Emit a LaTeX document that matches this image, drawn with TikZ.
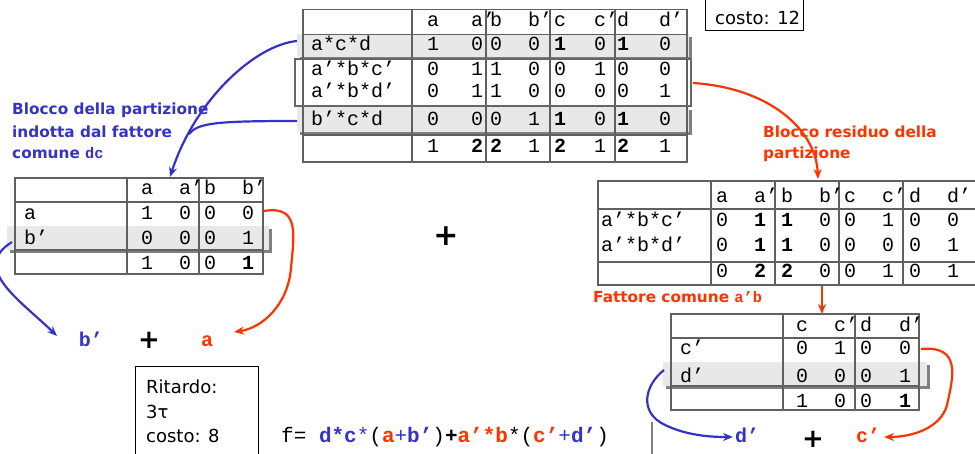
\documentclass[tikz,border=0pt]{standalone}
\usepackage{fontspec}
\setmainfont{DejaVu Sans}
\setmonofont{Liberation Mono}
\usetikzlibrary{arrows.meta}
\definecolor{myblue}{HTML}{3333CC}
\definecolor{myred}{HTML}{FF3300}
\definecolor{hl}{HTML}{E8E8E8}
\definecolor{shd}{HTML}{808080}
\definecolor{gridc}{HTML}{606060}
\newcommand\tabf{\fontsize{20}{20}\selectfont\ttfamily}
\newcommand\labf{\fontsize{15.3}{18}\selectfont\bfseries}
\newcommand\txtf{\fontsize{18}{18}\selectfont}
\tikzset{
 cell/.style={font=\tabf, inner sep=0pt, anchor=base},
 hcell/.style={font=\tabf, inner sep=0pt, anchor=base west},
 rlabel/.style={font=\tabf, inner sep=0pt, anchor=base west},
 gridline/.style={draw=gridc, line width=1.2pt},
 darkbox/.style={draw=black!60, line width=2.2pt},
 barrow/.style={draw=myblue, line width=2.2pt, -{Stealth[length=10pt,width=8pt]}},
 rarrow/.style={draw=myred, line width=2.2pt, -{Stealth[length=10pt,width=8pt]}},
 bline/.style={draw=myblue, line width=2.2pt},
 btxt/.style={font=\labf, text=myblue, inner sep=0pt, anchor=base west},
 rtxt/.style={font=\labf, text=myred, inner sep=0pt, anchor=base west},
 plain/.style={font=\txtf, inner sep=0pt, anchor=base west},
 infobox/.style={draw=black, line width=1pt},
 sym/.style={inner sep=0pt, anchor=base, font=\tabf\bfseries},
 bigplus/.style={inner sep=0pt, anchor=base, font=\fontsize{26}{26}\selectfont\bfseries},
}
\newcommand\hrow[3]{\foreach \x/\v [count=\i] in {#3} {\node[hcell] (#1-\i) at ({\x-6},#2) {\v};}}
\newcommand\vrow[3]{\foreach \x/\v [count=\i] in {#3} {\node[cell] (#1-\i) at (\x,#2) {\v};}}
\begin{document}
\begin{tikzpicture}[x=1pt,y=-1pt]
\useasboundingbox (0,0) rectangle (975,454);
\clip (0,0) rectangle (975,454);

% highlighted rows with shadow
\fill[shd] (300,37.5) rectangle (692,60);
\fill[hl] (297,34.5) rectangle (689,57);
\fill[shd] (300,110) rectangle (692,135);
\fill[hl] (297,107) rectangle (689,132);
\fill[shd] (10,229) rectangle (272,253);
\fill[hl] (7,226) rectangle (269,250);
\fill[shd] (666,365) rectangle (930,389);
\fill[hl] (663,362) rectangle (927,386);

% top table grid
\draw[gridline] (303,9.5) rectangle (687,162);
\foreach \x in {412,486,550,615} \draw[gridline] (\x,9.5) -- (\x,162);
\foreach \y in {34.3,135} \draw[gridline] (303,\y) -- (687,\y);
\draw[darkbox] (295,59) rectangle (691,106);

% left table grid
\draw[gridline] (15,178) rectangle (263,274);
\foreach \x in {127,199} \draw[gridline] (\x,178) -- (\x,274);
\foreach \y in {202,250} \draw[gridline] (15,\y) -- (263,\y);

% right table 1 grid
\draw[gridline] (985,181) -- (598,181) -- (598,285) -- (985,285);
\foreach \x in {711,775,839,903} \draw[gridline] (\x,181) -- (\x,285);
\foreach \y in {209,262} \draw[gridline] (598,\y) -- (985,\y);

% right table 2 grid
\draw[gridline] (671,314) rectangle (919,410);
\foreach \x in {783,855} \draw[gridline] (\x,314) -- (\x,410);
\foreach \y in {338,386} \draw[gridline] (671,\y) -- (919,\y);

% top table text
\hrow{th}{27}{433/a,477/a’,496/b,534/b’,560/c,600/c’,623/d,665/d’}
\node[rlabel] (tl1) at (311,51) {a*c*d};
\node[rlabel] (tl2) at (311,76) {a’*b*c’};
\node[rlabel] (tl3) at (311,98) {a’*b*d’};
\node[rlabel] (tl4) at (311,126) {b’*c*d};
\vrow{ta}{51}{433/1,477/0,496/0,534/0,560/\textbf{1},600/0,623/\textbf{1},665/0}
\vrow{tb}{76}{433/0,477/1,496/1,534/0,560/0,600/1,623/0,665/0}
\vrow{tc}{98}{433/0,477/1,496/1,534/0,560/0,600/0,623/0,665/1}
\vrow{td}{126}{433/0,477/0,496/0,534/1,560/\textbf{1},600/0,623/\textbf{1},665/0}
\vrow{tt}{153}{433/1,477/\textbf{2},496/\textbf{2},534/1,560/\textbf{2},600/1,623/\textbf{2},665/1}

% left table text
\hrow{lh}{195}{147/a,185/a’,210/b,248/b’}
\node[rlabel] (ll1) at (24,220) {a};
\node[rlabel] (ll2) at (24,245) {b’};
\vrow{la}{220}{147/1,185/0,210/0,248/0}
\vrow{lb}{245}{147/0,185/0,210/0,248/1}
\vrow{lt}{270}{147/1,185/0,210/0,248/\textbf{1}}

% right table 1 text
\hrow{rh}{203}{722/a,760/a’,787/b,825/b’,850/c,888/c’,915/d,953/d’}
\node[rlabel] (rl1a) at (601,227) {a’*b*c’};
\node[rlabel] (rl1b) at (601,252) {a’*b*d’};
\vrow{ra}{227}{722/0,760/\textbf{1},787/\textbf{1},825/0,850/0,888/1,915/0,953/0}
\vrow{rb}{252}{722/0,760/\textbf{1},787/\textbf{1},825/0,850/0,888/0,915/0,953/1}
\vrow{rt}{278}{722/0,760/\textbf{2},787/\textbf{2},825/0,850/0,888/1,915/0,953/1}

% right table 2 text
\hrow{sh}{332}{802/c,840/c’,866/d,905/d’}
\node[rlabel] (sl1) at (680,355) {c’};
\node[rlabel] (sl2) at (680,382) {d’};
\vrow{sa}{355}{802/0,840/1,866/0,905/0}
\vrow{sb}{382}{802/0,840/0,866/0,905/1}
\vrow{st}{407}{802/1,840/0,866/0,905/\textbf{1}}

% labels
\node[btxt] (bl1) at (12,115) {Blocco della partizione};
\node[btxt] (bl2) at (12,138) {indotta dal fattore};
\node[btxt] (bl3) at (12,159) {comune {\ttfamily dc}};
\node[rtxt] (rr1) at (763,138) {Blocco residuo della};
\node[rtxt] (rr2) at (763,159) {partizione};
\node[rtxt] (rr3) at (593,303) {Fattore comune {\ttfamily a’b}};

% boxes
\draw[infobox] (705,-5) rectangle (803,31);
\node[plain] (costo) at (715,25) {costo: 12};
\draw[infobox] (135,367) rectangle (258,470);
\node[plain] (rit1) at (146,393) {Ritardo:};
\node[plain] (rit2) at (146,418) {3τ};
\node[plain] (rit3) at (146,442) {costo: 8};

% formula
\node[inner sep=0pt, anchor=base west, font=\fontsize{21}{21}\selectfont\ttfamily] (formula) at (281,442)
 {f=~\textcolor{myblue}{\textbf{d*c}*}(\textcolor{myred}{\textbf{a}}\textcolor{myblue}{+\textbf{b’}})\textbf{+}\textcolor{myred}{\textbf{a’*b}}*(\textcolor{myred}{\textbf{c’}}\textcolor{myblue}{+\textbf{d’}})};

% sums
\node[sym, text=myblue] (sb) at (91,347) {b’};
\node[bigplus] (p1) at (149,349) {+};
\node[sym, text=myred] (sa) at (207,347) {a};
\node[sym, text=myblue] (sd) at (747,442) {d’};
\node[bigplus] (p2) at (813,447) {+};
\node[sym, text=myred] (sc) at (868,442) {c’};
\node[inner sep=0pt, anchor=base, font=\fontsize{30}{30}\selectfont\bfseries] (p0) at (446,246) {+};

\draw[gray, line width=1.5pt] (652,422) -- (652,460);

% connector end points
\coordinate (a1s) at (297,41);
\coordinate (a1e) at (170,177);
\coordinate (a2s) at (297,121);
\coordinate (a2m) at (189,134);
\coordinate (a3s) at (12,242);
\coordinate (a3e) at (57,336);
\coordinate (a4s) at (264,211);
\coordinate (a4e) at (234,332);
\coordinate (a5s) at (693,83);
\coordinate (a5e) at (818,179);
\coordinate (a6s) at (822,286);
\coordinate (a6e) at (822,314);
\coordinate (a7s) at (921,349);
\coordinate (a7e) at (884,437);
\coordinate (a8s) at (664,370);
\coordinate (a8e) at (733,437);

\draw[barrow] (a1s) .. controls (255,45) and (195,100) .. (a1e);
\draw[bline] (a2s) .. controls (215,121) and (198,123) .. (a2m);
\draw[barrow] (a3s) .. controls (-30,268) and (20,300) .. (a3e);
\draw[rarrow] (a4s) .. controls (300,205) and (294,235) .. (291,268) .. controls (288,305) and (262,328) .. (a4e);
\draw[rarrow] (a5s) .. controls (770,88) and (816,130) .. (a5e);
\draw[rarrow] (a6s) -- (a6e);
\draw[rarrow] (a7s) .. controls (962,345) and (953,378) .. (947,405) .. controls (941,428) and (912,437) .. (a7e);
\draw[barrow] (a8s) .. controls (645,385) and (638,412) .. (665,425) .. controls (688,436) and (712,437) .. (a8e);
\end{tikzpicture}
\end{document}
